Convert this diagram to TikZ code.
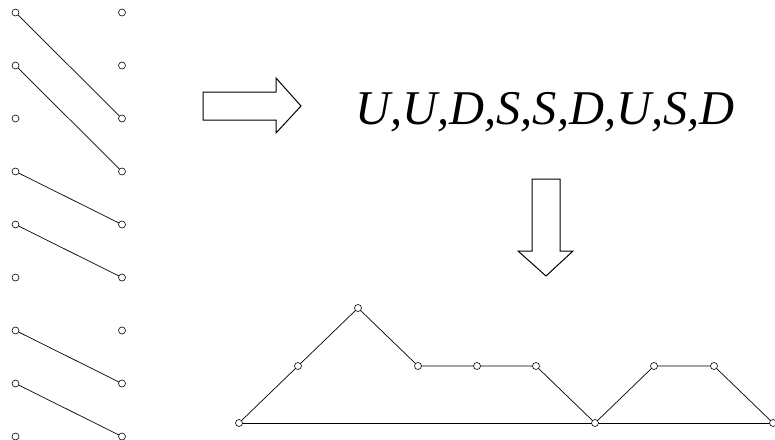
\documentclass[tikz,border=0pt]{standalone}
\usepackage{fontspec}
\setmainfont{Liberation Serif}
\usetikzlibrary{positioning}

\tikzset{
  dot/.style={circle, draw, fill=white, inner sep=0pt, minimum size=7pt, line width=0.6pt},
  link/.style={line width=0.7pt},
  fat/.style={draw, line width=1pt, fill=white}
}

\begin{document}
\begin{tikzpicture}[x=1pt, y=-1pt, line join=miter]
\useasboundingbox (0,0) rectangle (775,439);

% two columns of points
\foreach \i in {1,...,9} {
  \node[dot] (L\i) at (15.5, {12.5+53*(\i-1)}) {};
  \node[dot] (R\i) at (122,  {12.5+53*(\i-1)}) {};
}

% matching
\foreach \a/\b in {1/3, 2/4, 4/5, 5/6, 7/8, 8/9}
  \draw[link] (L\a) -- (R\b);

% arrow to the word
\draw[fat] (203,92) -- (276,92) -- (276,78) -- (301,106) -- (276,133)
  -- (276,120) -- (203,120) -- cycle;

\node[anchor=base, inner sep=0pt, font=\fontsize{48.5}{50}\selectfont\itshape]
  (word) at (545,124) {U,U,D,S,S,D,U,S,D};

% arrow to the path
\draw[fat] (532,179) -- (560,179) -- (560,251) -- (573,251) -- (546,276)
  -- (518,251) -- (532,251) -- cycle;

% Motzkin path
\foreach \i/\x/\y in {0/239/423, 1/298/366, 2/358/308, 3/418/366, 4/477/366,
                      5/536/366, 6/595/423, 7/654/366, 8/714/366, 9/773/423}
  \coordinate (p\i) at (\x,\y);

\draw[link] (p0) -- (p9);
\draw[link] (p0) -- (p1) -- (p2) -- (p3) -- (p4) -- (p5) -- (p6) -- (p7) -- (p8) -- (p9);
\foreach \i in {0,...,9}
  \node[dot] (q\i) at (p\i) {};

\end{tikzpicture}
\end{document}
